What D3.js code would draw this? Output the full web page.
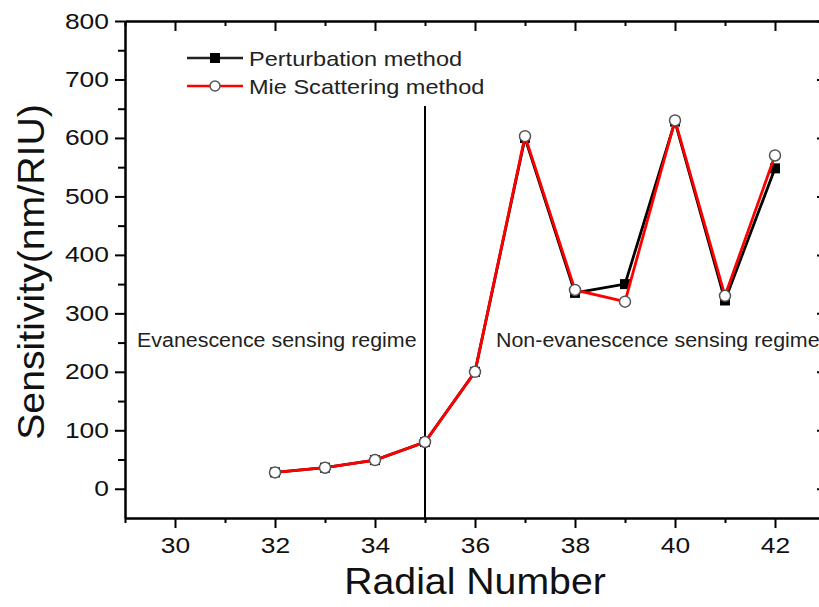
<!DOCTYPE html>
<html>
<head>
<meta charset="utf-8">
<script src="https://cdn.jsdelivr.net/npm/d3@7"></script>
<style>
  body { margin: 0; background: #fff; }
  svg { font-family: "Liberation Sans", Arial, sans-serif; }
</style>
</head>
<body>
<svg width="819" height="607"></svg>
<script>
var radial = [32, 33, 34, 35, 36, 37, 38, 39, 40, 41, 42];
var perturbation = [28, 36, 49, 80, 200, 600, 335, 350, 628, 322, 548];
var mie = [28, 36, 49, 80, 200, 603, 340, 320, 630, 330, 570];
var xTicks = [30, 32, 34, 36, 38, 40, 42];
var yTicks = [0, 100, 200, 300, 400, 500, 600, 700, 800];

var svg = d3.select('svg');

var x = d3.scaleLinear().domain([29, 43]).range([125, 825]);
var y = d3.scaleLinear().domain([-50, 800]).range([518, 21]);

var minorX = d3.range(29, 44, 1).filter(function(d) { return d % 2 == 1; });
var minorY = d3.range(50, 800, 100);

// the scanned figure has slightly wide lettering
function widen(sel, k) {
    sel.each(function() {
        var w = this.getComputedTextLength();
        d3.select(this).attr('textLength', w * k).attr('lengthAdjust', 'spacingAndGlyphs');
    });
}

// bottom axis
var bottomAxis = svg.append('g').attr('transform', 'translate(0,518)');
bottomAxis.call(d3.axisBottom(x).tickValues(xTicks).tickSize(10).tickSizeOuter(0).tickPadding(9).tickFormat(d3.format('d')));
bottomAxis.append('g').call(d3.axisBottom(x).tickValues(minorX).tickSize(5).tickSizeOuter(0).tickFormat(''));

// left axis
var leftAxis = svg.append('g').attr('transform', 'translate(125,0)');
leftAxis.call(d3.axisLeft(y).tickValues(yTicks).tickSize(10).tickSizeOuter(0).tickPadding(6).tickFormat(d3.format('d')));
leftAxis.append('g').call(d3.axisLeft(y).tickValues(minorY).tickSize(7).tickSizeOuter(0).tickFormat(''));

// top axis, ticks inside
var topAxis = svg.append('g').attr('transform', 'translate(0,21)');
topAxis.call(d3.axisBottom(x).tickValues(xTicks).tickSize(10).tickSizeOuter(0).tickFormat(''));
topAxis.append('g').call(d3.axisBottom(x).tickValues(minorX).tickSize(5).tickSizeOuter(0).tickFormat(''));

// right axis, ticks inside
var rightAxis = svg.append('g').attr('transform', 'translate(825,0)');
rightAxis.call(d3.axisLeft(y).tickValues(yTicks).tickSize(8).tickSizeOuter(0).tickFormat(''));

svg.selectAll('.domain').attr('stroke', '#000').attr('stroke-width', 2);
svg.selectAll('.tick line').attr('stroke', '#000').attr('stroke-width', 2);
svg.selectAll('.tick text').attr('font-size', 22).attr('fill', '#111')
    .attr('font-family', '"Liberation Sans", Arial, sans-serif');
widen(svg.selectAll('.tick text'), 1.2);

// axis titles
svg.append('text')
    .attr('class', 'title')
    .attr('x', 475)
    .attr('y', 594)
    .attr('text-anchor', 'middle')
    .attr('font-size', 37)
    .attr('fill', '#111')
    .text('Radial Number');

svg.append('text')
    .attr('class', 'title')
    .attr('transform', 'translate(44,272) rotate(-90)')
    .attr('text-anchor', 'middle')
    .attr('font-size', 37)
    .attr('fill', '#111')
    .text('Sensitivity(nm/RIU)');
widen(svg.selectAll('.title'), 1.06);

// regime divider
svg.append('line')
    .attr('x1', x(35))
    .attr('x2', x(35))
    .attr('y1', 106)
    .attr('y2', 518)
    .style('stroke', 'black')
    .style('stroke-width', 2);

svg.append('text')
    .attr('class', 'note')
    .attr('x', 137)
    .attr('y', 347)
    .attr('font-size', 20)
    .attr('fill', '#222')
    .text('Evanescence sensing regime');

svg.append('text')
    .attr('class', 'note')
    .attr('x', 496)
    .attr('y', 347)
    .attr('font-size', 20)
    .attr('fill', '#222')
    .text('Non-evanescence sensing regime');
widen(svg.selectAll('.note'), 1.07);

var line = d3.line()
    .x(function(d, i) { return x(radial[i]); })
    .y(function(d) { return y(d); });

// perturbation series
svg.append('path')
    .datum(perturbation)
    .attr('d', line)
    .style('fill', 'none')
    .style('stroke', 'black')
    .style('stroke-width', 2.8);

svg.selectAll('.sq')
    .data(perturbation)
    .enter()
    .append('rect')
    .attr('class', 'sq')
    .attr('x', function(d, i) { return x(radial[i]) - 5; })
    .attr('y', function(d) { return y(d) - 5; })
    .attr('width', 10)
    .attr('height', 10)
    .style('fill', 'black');

// mie series
svg.append('path')
    .datum(mie)
    .attr('d', line)
    .style('fill', 'none')
    .style('stroke', '#ff0000')
    .style('stroke-width', 2.8);

svg.selectAll('.ci')
    .data(mie)
    .enter()
    .append('circle')
    .attr('class', 'ci')
    .attr('cx', function(d, i) { return x(radial[i]); })
    .attr('cy', function(d) { return y(d); })
    .attr('r', 5.5)
    .style('fill', 'white')
    .style('stroke', '#555')
    .style('stroke-width', 1.5);

// legend
var legend = svg.append('g');
legend.append('line')
    .attr('x1', 187).attr('x2', 243).attr('y1', 58).attr('y2', 58)
    .style('stroke', '#222').style('stroke-width', 2.5);
legend.append('rect')
    .attr('x', 210).attr('y', 53).attr('width', 10).attr('height', 10)
    .style('fill', 'black');
legend.append('text')
    .attr('class', 'leg')
    .attr('x', 249).attr('y', 66).attr('font-size', 21).attr('fill', '#222')
    .text('Perturbation method');

legend.append('line')
    .attr('x1', 187).attr('x2', 243).attr('y1', 86).attr('y2', 86)
    .style('stroke', '#ff0000').style('stroke-width', 2.5);
legend.append('circle')
    .attr('cx', 215).attr('cy', 86).attr('r', 5)
    .style('fill', 'white').style('stroke', '#555').style('stroke-width', 1.5);
legend.append('text')
    .attr('class', 'leg')
    .attr('x', 249).attr('y', 94).attr('font-size', 21).attr('fill', '#222')
    .text('Mie Scattering method');
widen(svg.selectAll('.leg'), 1.12);
</script>
</body>
</html>
